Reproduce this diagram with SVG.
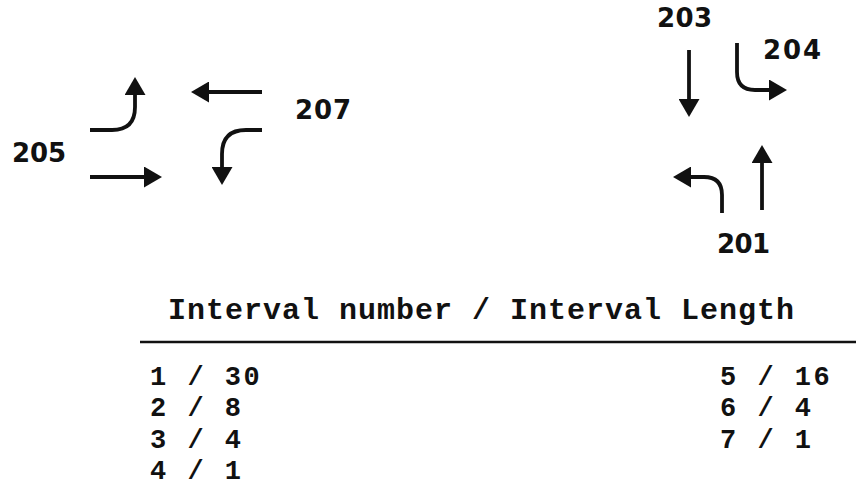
<svg xmlns="http://www.w3.org/2000/svg" width="856" height="497" viewBox="0 0 856 497">
<style>
.arr{fill:none;stroke:#111;stroke-width:3.8;marker-end:url(#head)}
.lbl{font-family:"DejaVu Sans",sans-serif;font-weight:bold;font-size:26px;fill:#111}
.mono{font-family:"Liberation Mono","DejaVu Sans Mono",monospace;font-weight:bold;font-size:27px;letter-spacing:2.5px;fill:#111}
.title{font-family:"Liberation Mono","DejaVu Sans Mono",monospace;font-weight:bold;font-size:30px;fill:#111}
</style>
<defs>
<marker id="head" viewBox="0 0 18 21" refX="0" refY="10.5" markerWidth="18" markerHeight="21" markerUnits="userSpaceOnUse" orient="auto">
<path d="M0,0 L18,10.5 L0,21 z" fill="#111"/>
</marker>
</defs>
<rect width="856" height="497" fill="#fff"/>
<g id="connectors">
<path class="arr" d="M90,130 H112 Q135,130 135,107 V95"/>
<path class="arr" d="M262,92 H209"/>
<path class="arr" d="M262,130 H246 Q222,130 222,154 V167"/>
<path class="arr" d="M90,177 H144"/>
<path class="arr" d="M689,50 V99"/>
<path class="arr" d="M737,43 V72 Q737,90 755,90 H769"/>
<path class="arr" d="M762,210 V163"/>
<path class="arr" d="M722,213 V195 Q722,177 704,177 H691"/>
</g>
<g id="n205"><text class="lbl" x="12" y="162" textLength="54">205</text></g>
<g id="n207"><text class="lbl" x="295" y="119" textLength="56">207</text></g>
<g id="n203"><text class="lbl" x="657" y="27" textLength="55">203</text></g>
<g id="n204"><text class="lbl" x="763" y="59" textLength="58">204</text></g>
<g id="n201"><text class="lbl" x="717" y="253" textLength="53">201</text></g>
<g id="table">
<text class="title" x="168" y="319" textLength="626" lengthAdjust="spacing">Interval number / Interval Length</text>
<line x1="140" y1="342" x2="856" y2="342" stroke="#111" stroke-width="2.6"/>
<text class="mono" x="150" y="385">1 / 30</text>
<text class="mono" x="150" y="416">2 / 8</text>
<text class="mono" x="150" y="448">3 / 4</text>
<text class="mono" x="150" y="479">4 / 1</text>
<text class="mono" x="720" y="385">5 / 16</text>
<text class="mono" x="720" y="416">6 / 4</text>
<text class="mono" x="720" y="448">7 / 1</text>
</g>
</svg>
